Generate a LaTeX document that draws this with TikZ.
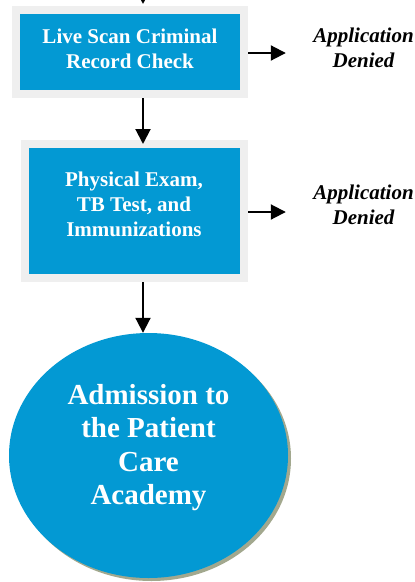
\documentclass[tikz,border=0pt]{standalone}
\usepackage{fontspec}
\setmainfont{Liberation Serif}
\usetikzlibrary{arrows.meta,shapes.geometric,shadows}
\definecolor{stepblue}{HTML}{0399D3}
\definecolor{framegray}{HTML}{EFEFEF}
\definecolor{shadowgray}{HTML}{A2A88E}
\begin{document}
\begin{tikzpicture}[x=1pt, y=-1pt]
\tikzset{%
	stepbox/.style = {draw = framegray, line width = 8pt, fill = stepblue, rectangle, inner sep = 0pt},
	steptext/.style = {text = white, align = center, font = \fontsize{21}{25}\selectfont\bfseries},
	goal/.style = {ellipse, fill = stepblue, inner sep = 0pt, minimum width = 279pt, minimum height = 245pt,
		drop shadow = {shadow xshift = 3pt, shadow yshift = -3pt, fill = shadowgray, opacity = 1}},
	goaltext/.style = {text = white, align = center, font = \fontsize{29}{33.6}\selectfont\bfseries},
	denied/.style = {align = center, font = \fontsize{21}{24.5}\selectfont\bfseries\itshape},
	con/.style = {-{Triangle[length=15pt,width=15pt]}, line width = 2pt}
}
\useasboundingbox (0,0) rectangle (415,582);

% Steps
\node at (130,52) [stepbox, minimum width = 228pt, minimum height = 84pt] (scan) {};
\node at ([yshift=3pt]scan.center) [steptext] (scantxt) {Live Scan Criminal\\Record Check};

\node at (134.5,211) [stepbox, minimum width = 219pt, minimum height = 134pt] (exam) {};
\node at (134,204) [steptext] (examtxt) {Physical Exam,\\TB Test, and\\Immunizations};

\node at (148.5,455.5) [goal] (adm) {};
\node at (148.5,447.5) [goaltext] (admtxt) {Admission to\\the Patient\\Care\\Academy};

% Outcomes
\node at (363.5,48) [denied] (den1) {Application\\Denied};
\node at (363.5,205) [denied] (den2) {Application\\Denied};

% Connectors
\coordinate (top) at (143,-2);
\draw[con, shorten >= 2pt] (top) -- (scan.north -| top);
\draw[con, shorten >= -4pt] (scan.south -| top) -- (exam.north -| top);
\draw[con] (exam.south -| top) -- (adm.north -| top);
\draw[con, shorten >= 24pt] ([yshift=-1pt]scan.east) -- ([yshift=-1pt]scan.east -| den1.west);
\draw[con, shorten >= 24pt] ([yshift=-1pt]exam.east) -- ([yshift=-1pt]exam.east -| den2.west);

\end{tikzpicture}
\end{document}
